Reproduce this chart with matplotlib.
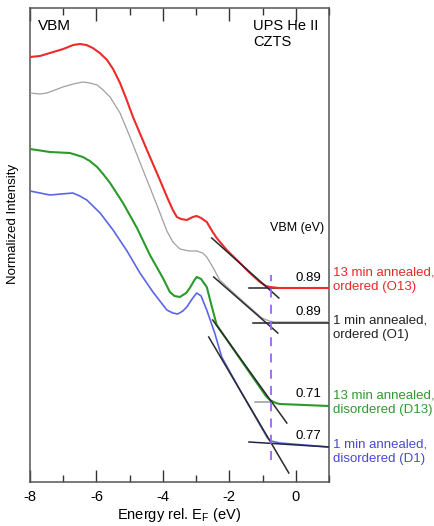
import matplotlib
matplotlib.use("Agg")
import matplotlib.pyplot as plt
from matplotlib.ticker import MultipleLocator

plt.rcParams['font.family'] = ['Liberation Sans', 'DejaVu Sans']
plt.rcParams['axes.unicode_minus'] = False

# ---- data (energy in eV, intensity in arbitrary normalized units, offset) ----
o13_x = [-8.0, -7.70, -7.40, -7.00, -6.70, -6.50, -6.30, -6.11, -5.90, -5.68, -5.50,
         -5.29, -5.10, -4.90, -4.48, -4.09, -3.85, -3.70, -3.58, -3.45,
         -3.28, -3.10, -2.98, -2.85, -2.68, -2.50, -2.38, -2.08, -1.68, -1.38,
         -1.08, -0.90, -0.78, -0.50, -0.18, 0.5, 1.0]
o13_y = [425, 426, 429, 433, 437, 438, 437, 434, 429, 422, 413,
         399, 383, 365, 332, 302, 283, 272, 265, 263,
         262, 265, 266, 264, 260, 250, 244, 232, 219, 209,
         200, 196, 195, 194, 194, 194, 194]

o1_x = [-8.0, -7.70, -7.49, -7.01, -6.70, -6.41, -6.20, -5.98, -5.80, -5.59, -5.29,
        -4.99, -4.60, -4.18, -3.88, -3.70, -3.49, -3.20, -2.98, -2.80, -2.68,
        -2.50, -2.29, -1.90, -1.53, -1.02, -0.80, -0.63, 1.0]
o1_y = [389, 388, 389, 395, 398, 400, 399, 397, 392, 385, 369,
        345, 312, 277, 251, 240, 233, 231, 231, 229, 225,
        215, 202, 190, 179, 164, 161, 160, 160]

d13_x = [-8.0, -7.40, -6.80, -6.41, -6.20, -5.98, -5.80, -5.59, -5.20, -4.78, -4.39,
         -4.00, -3.79, -3.65, -3.49, -3.30, -3.19, -3.05, -2.98, -2.85, -2.68,
         -2.50, -2.38, -1.59, -0.90, -0.78, -0.60, -0.48, 1.0]
d13_y = [333, 330, 329, 325, 321, 315, 308, 299, 279, 254, 227,
         204, 190, 186, 185, 189, 194, 202, 205, 203, 195,
         172, 157, 119, 86, 82, 79, 78, 76]

d1_x = [-8.0, -7.40, -6.71, -6.50, -6.29, -5.89, -5.50, -5.08, -4.69, -4.30, -3.88,
        -3.70, -3.55, -3.40, -3.28, -3.10, -2.98, -2.85, -2.68, -2.44, -2.23,
        -1.68, -0.99, -0.85, -0.75, -0.48, 1.0]
d1_y = [291, 287, 289, 286, 282, 269, 252, 231, 209, 190, 172,
        169, 168, 171, 175, 184, 189, 186, 172, 149, 125,
        92, 52, 44, 41, 39, 35]

# linear fits (leading edge) and baselines: (x0, x1), (y0, y1)
fit_o13 = ([-2.53, -0.51], [244, 184])
fit_o1 = ([-2.47, -0.54], [205, 149])
fit_d13 = ([-2.50, -0.27], [162, 59])
fit_d1 = ([-2.62, -0.21], [145, 9])
base_o13 = ([-1.41, -0.55], [194, 194])
base_o1 = ([-1.29, 1.0], [159, 159])
base_d13 = ([-1.23, -0.70], [80, 80])
base_d1 = ([-1.41, 1.0], [40, 35])

vbm_energy = -0.75
vbm_values = ["0.89", "0.89", "0.71", "0.77"]
vbm_label_y = [204, 170, 88, 46]
sample_labels = ["13 min annealed,\nordered (O13)", "1 min annealed,\nordered (O1)",
                 "13 min annealed,\ndisordered (D13)", "1 min annealed,\ndisordered (D1)"]
sample_label_y = [202, 154, 79, 30]
sample_colors = ["#e8282e", "#222222", "#2e9a2e", "#4a4ad0"]

fig = plt.figure(figsize=(4.35, 5.26), dpi=100)
ax = fig.add_axes([30/435, 44/526, 299/435, 474/526])

ax.plot(base_o13[0], base_o13[1], color="#222222", lw=1.1, zorder=2)
ax.plot(base_d13[0], base_d13[1], color="#999999", lw=1.1, zorder=2)

ax.plot(o13_x, o13_y, color="#ee2a2a", lw=1.5, zorder=3)
ax.plot(o1_x, o1_y, color="#a0a0a0", lw=0.9, zorder=3)
ax.plot(d13_x, d13_y, color="#2a9a2a", lw=1.5, zorder=3)
ax.plot(d1_x, d1_y, color="#5a66e6", lw=1.2, zorder=3)

for fx, fy in (fit_o13, fit_o1, fit_d13, fit_d1):
    ax.plot(fx, fy, color="#2a2a2a", lw=1.1, zorder=4)
ax.plot(base_o1[0], base_o1[1], color="#222222", lw=1.1, zorder=4)
ax.plot(base_d1[0], base_d1[1], color="#22264a", lw=1.1, zorder=4)

ax.axvline(vbm_energy, ymin=22/474, ymax=207/474, color="#9966ee", lw=1.3,
           ls=(0, (5, 4)), zorder=5)

ax.set_xlim(-8, 1)
ax.set_ylim(0, 474)
ax.xaxis.set_major_locator(MultipleLocator(2))
ax.xaxis.set_minor_locator(MultipleLocator(1))
ax.tick_params(axis='x', which='both', direction='in', top=True, bottom=True,
               labelsize=10.5, pad=6, color="#333333")
ax.tick_params(axis='x', which='major', length=9, width=1)
ax.tick_params(axis='x', which='minor', length=5, width=1)
ax.set_yticks([])
for s in ax.spines.values():
    s.set_color("#555555")
    s.set_linewidth(1.1)

ax.set_xlabel("Energy rel. E$_\\mathregular{F}$ (eV)", fontsize=10.5, labelpad=1)
ax.set_ylabel("Normalized Intensity", fontsize=9.5)
ax.yaxis.set_label_coords(-0.037, 0.544)

ax.text(-7.76, 456, "VBM", fontsize=11, va='center', ha='left')
ax.text(-1.29, 456, "UPS He II", fontsize=10.5, va='center', ha='left')
ax.text(-1.29, 440, "CZTS", fontsize=10.5, va='center', ha='left')
ax.text(0.84, 254, "VBM (eV)", fontsize=9, va='center', ha='right')

for v, y in zip(vbm_values, vbm_label_y):
    ax.text(0.78, y, v, fontsize=9.5, va='center', ha='right')

for lab, y, c in zip(sample_labels, sample_label_y, sample_colors):
    ax.text(1.11, y, lab, fontsize=9.5, va='center', ha='left', color=c,
            clip_on=False, linespacing=1.3)

fig.savefig("out.png", dpi=100)
